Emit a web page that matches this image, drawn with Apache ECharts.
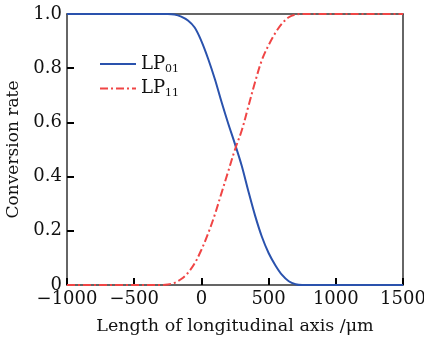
<!DOCTYPE html>
<html>
<head>
<meta charset="utf-8">
<script src="https://cdn.jsdelivr.net/npm/echarts@6/dist/echarts.min.js"></script>
<style>html,body{margin:0;padding:0;background:#fff}#c{width:424px;height:342px}</style>
</head>
<body>
<div id="c"></div>
<script>
var xs = [-1000,-950,-900,-850,-800,-750,-700,-650,-600,-550,-500,-450,-400,-350,-300,-250,-200,-150,-100,-50,0,50,100,150,200,250,300,350,400,450,500,550,600,650,700,750,800,850,900,950,1000,1050,1100,1150,1200,1250,1300,1350,1400,1450,1500];
var lp01 = [1,1,1,1,1,1,1,1,1,1,1,1,1,1,1,1,0.998,0.99,0.976,0.95,0.9,0.835,0.76,0.675,0.595,0.52,0.44,0.345,0.255,0.178,0.118,0.073,0.037,0.014,0.003,0,0,0,0,0,0,0,0,0,0,0,0,0,0,0,0];
var lp11 = [0,0,0,0,0,0,0,0,0,0,0,0,0,0,0,0.002,0.008,0.022,0.045,0.08,0.13,0.19,0.26,0.34,0.42,0.5,0.57,0.66,0.75,0.83,0.885,0.93,0.965,0.988,0.998,1,1,1,1,1,1,1,1,1,1,1,1,1,1,1,1];
var xTicks = [-1000,-500,0,500,1000,1500];
var yTicks = [0,0.2,0.4,0.6,0.8,1.0];

function pairs(ys){ return xs.map(function(x,i){ return [x, ys[i]]; }); }
var FONT = '"DejaVu Serif", "Liberation Serif", serif';
var chart = echarts.init(document.getElementById('c'));
chart.setOption({
  animation: false,
  grid: {left: 67, right: 21, top: 14, bottom: 57, outerBoundsMode: 'none', containLabel: false,
    show: false},
  xAxis: [{
    type: 'value', position: 'bottom', min: xTicks[0], max: xTicks[xTicks.length-1], interval: 500,
    name: 'Length of longitudinal axis /\u03bcm', nameLocation: 'middle', nameGap: 32,
    nameTextStyle: {fontFamily: FONT, fontSize: 17.5, color: '#111'},
    axisLine: {show: true, onZero: false, lineStyle: {color: '#333', width: 1.5}},
    axisTick: {show: true, inside: true, length: 7, lineStyle: {color: '#000', width: 2}},
    axisLabel: {fontFamily: FONT, fontSize: 18, color: '#111', margin: 5, hideOverlap: false,
      formatter: function(v){ return v < 0 ? '\u2212' + Math.abs(v) : String(v); }},
    splitLine: {show: false}
  }, {
    type: 'value', position: 'top', min: xTicks[0], max: xTicks[xTicks.length-1], interval: 500,
    axisLine: {show: true, onZero: false, lineStyle: {color: '#333', width: 1.5}},
    axisTick: {show: false}, axisLabel: {show: false}, splitLine: {show: false}
  }],
  yAxis: [{
    type: 'value', position: 'left', min: yTicks[0], max: yTicks[yTicks.length-1], interval: 0.2,
    name: 'Conversion rate', nameLocation: 'middle', nameGap: 41,
    nameTextStyle: {fontFamily: FONT, fontSize: 17, color: '#111'},
    axisLine: {show: true, onZero: false, lineStyle: {color: '#333', width: 1.5}},
    axisTick: {show: true, inside: true, length: 7, lineStyle: {color: '#000', width: 2}},
    axisLabel: {fontFamily: FONT, fontSize: 18, color: '#111', margin: 5,
      formatter: function(v){ return v === 0 ? '0' : v.toFixed(1); }},
    splitLine: {show: false}
  }, {
    type: 'value', position: 'right', min: yTicks[0], max: yTicks[yTicks.length-1], interval: 0.2,
    axisLine: {show: true, onZero: false, lineStyle: {color: '#333', width: 1.5}},
    axisTick: {show: false}, axisLabel: {show: false}, splitLine: {show: false}
  }],
  legend: {
    left: 94, top: 50, orient: 'vertical', itemGap: 5, itemWidth: 36, itemHeight: 14,
    data: ['LP01', 'LP11'],
    itemStyle: {color: 'transparent', borderColor: 'transparent', borderWidth: 0, opacity: 0},
    formatter: function(n){ return '{m|LP}{s|' + n.slice(2) + '}'; },
    textStyle: {fontFamily: FONT, color: '#111',
      rich: {m: {fontFamily: FONT, fontSize: 18, color: '#111'}, s: {fontFamily: FONT, fontSize: 11, color: '#111', padding: [10,0,0,0]}}}
  },
  series: [
    {name: 'LP01', type: 'line', data: pairs(lp01), symbol: 'none', smooth: 0.35, color: '#2a52ad',
      lineStyle: {color: '#2a52ad', width: 2}},
    {name: 'LP11', type: 'line', data: pairs(lp11), symbol: 'none', smooth: 0.35, color: '#f04545',
      lineStyle: {color: '#f04545', width: 2, type: [8,3,2,3]}}
  ]
});
</script>
</body>
</html>
